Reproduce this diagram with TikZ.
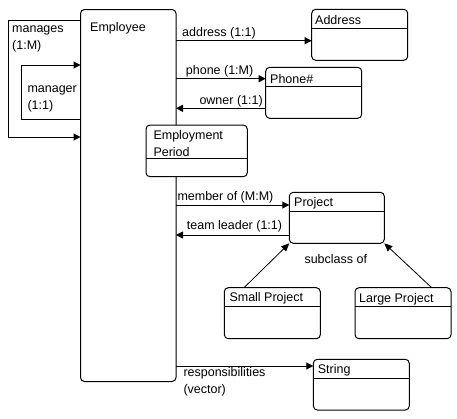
\documentclass[tikz,border=0pt]{standalone}
\usepackage{fontspec}
\setmainfont{Liberation Sans}
\usetikzlibrary{arrows.meta}
\begin{document}
\begin{tikzpicture}[x=1pt,y=-1pt,
    every node/.style={font=\fontsize{12.5}{16.7}\selectfont},
    box/.style={draw,line width=1pt,rounded corners=4pt,fill=white,inner sep=0pt,outer sep=0pt,
      anchor=north west,minimum width=96pt,minimum height=51pt},
    lbl/.style={inner sep=0pt,anchor=base west,align=left},
    link/.style={line width=1pt,-{Triangle[length=7pt,width=7pt]}},
    sub/.style={line width=0.8pt,-{Triangle[length=8pt,width=7pt]}}]
  \useasboundingbox (0,0) rectangle (457,418);
  \draw
    (80.5,9.5) node[box,minimum width=95.5pt,minimum height=372pt] (emp){}
    (311.7,9.3) node[box] (address){}
    (265.7,67.3) node[box] (phone){}
    (146,125) node[box,minimum width=101.3pt,minimum height=51.7pt] (period){}
    (289.3,192.3) node[box,minimum width=95pt] (project){}
    (224.3,287.7) node[box] (small){}
    (355,287.7) node[box] (large){}
    (313.3,359.3) node[box,minimum height=50.7pt] (string){};
  \foreach \n in {address,phone,project,small,large,string}
    \draw[line width=1pt] ([yshift=-19pt]\n.north west) -- ([yshift=-19pt]\n.north east);
  \draw[line width=1pt] ([yshift=-33.3pt]period.north west) -- ([yshift=-33.3pt]period.north east);
  \draw
    (90,31.5) node[lbl] (emp-t){Employee}
    (315,24) node[lbl] (address-t){Address}
    (270,83.3) node[lbl] (phone-t){Phone\#}
    (153.3,156.2) node[lbl] (period-t){Employment\\Period}
    (294,206.7) node[lbl] (project-t){Project}
    (229.3,301.7) node[lbl] (small-t){Small Project}
    (359,302.7) node[lbl] (large-t){Large Project}
    (317.7,373.3) node[lbl] (string-t){String};
  \draw
    (12,49) node[lbl] (manages){manages\\(1:M)}
    (27.3,109.5) node[lbl] (manager){manager\\(1:1)}
    (182,36.7) node[lbl] (addr-l){address (1:1)}
    (185.7,74) node[lbl] (phone-l){phone (1:M)}
    (199.3,104) node[lbl] (owner-l){owner (1:1)}
    (177.3,200) node[lbl] (member-l){member of (M:M)}
    (186.7,229.3) node[lbl] (leader-l){team leader (1:1)}
    (304.3,263.3) node[lbl] (subclass-l){subclass of}
    (183.3,393.3) node[lbl] (resp-l){responsibilities\\(vector)};
  \begin{scope}[link]
    \draw (emp.west |- 0,20) -| (8,137) -- (emp.west |- 0,137);
    \draw (emp.west |- 0,119) -| (21,65) -- (emp.west |- 0,65);
    \draw (emp.east |- 0,40.7) -- (address.west |- 0,40.7);
    \draw (emp.east |- 0,78.7) -- (phone.west |- 0,78.7);
    \draw (phone.west |- 0,108.3) -- (emp.east |- 0,108.3);
    \draw (emp.east |- 0,205) -- (project.west |- 0,205);
    \draw (project.west |- 0,235) -- (emp.east |- 0,235);
    \draw (emp.east |- 0,366) -- (string.west |- 0,366);
  \end{scope}
  \begin{scope}[sub]
    \draw ([xshift=19.7pt]small.north west) -- (project.south west);
    \draw ([xshift=76.7pt]large.north west) -- (project.south east);
  \end{scope}
\end{tikzpicture}
\end{document}
